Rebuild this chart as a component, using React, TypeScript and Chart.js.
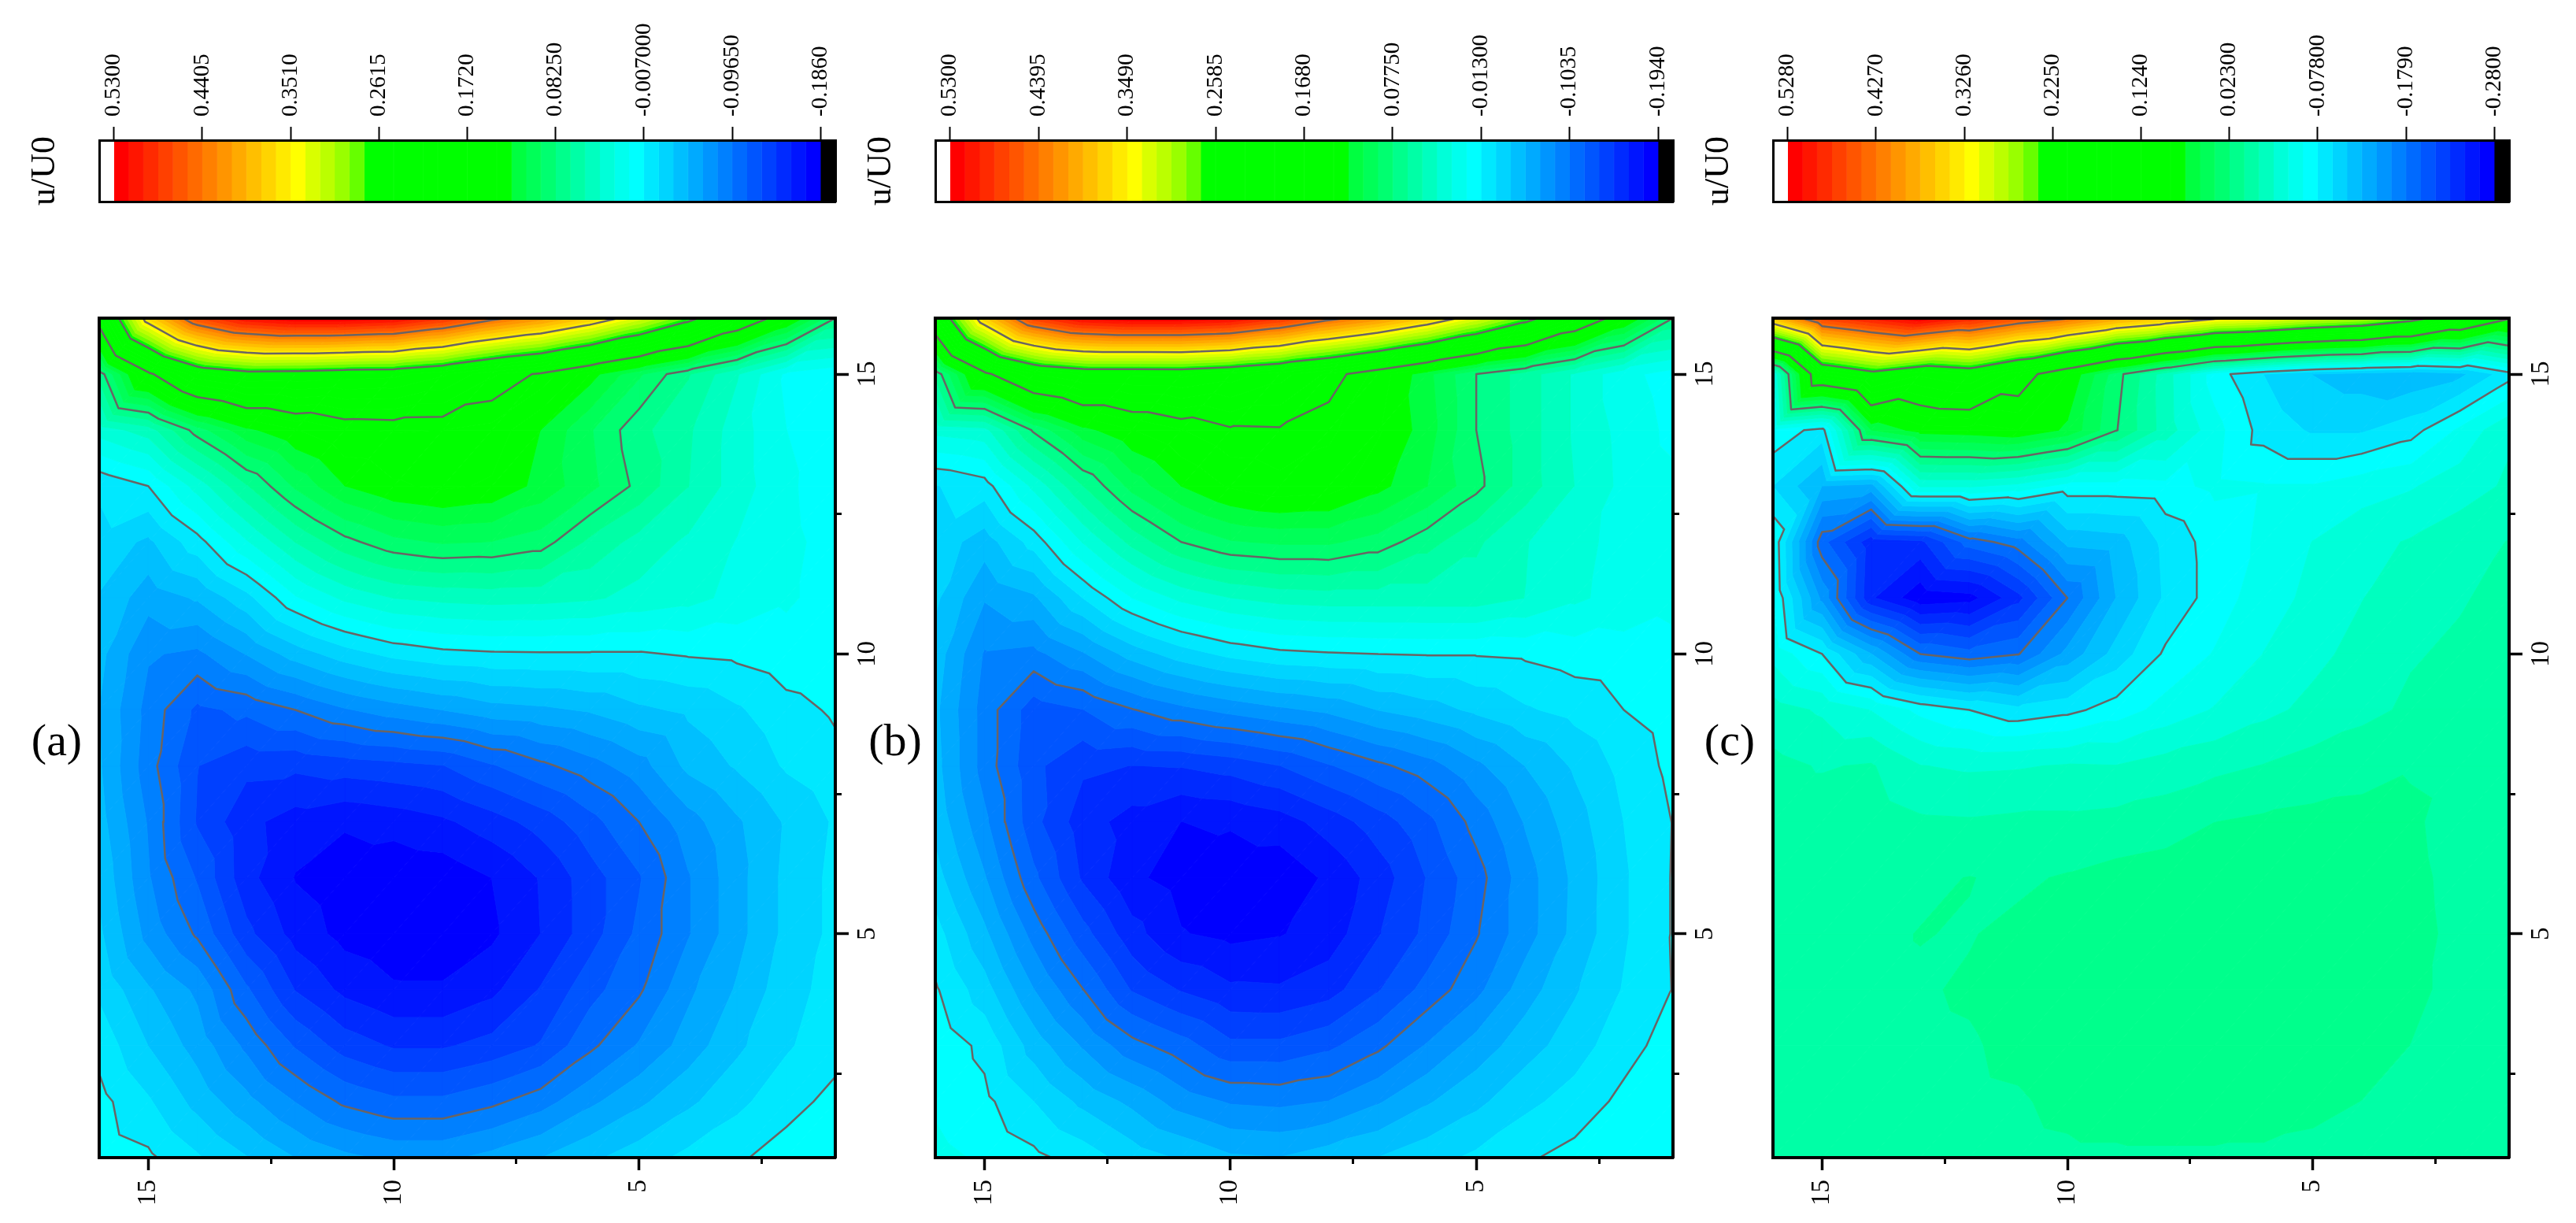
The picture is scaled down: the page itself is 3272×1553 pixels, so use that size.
import React, { useEffect, useRef } from "react";
import { Chart, registerables } from "chart.js";

Chart.register(...registerables);

const FONT = "'Liberation Serif', 'Times New Roman', serif";

// grid axes (rows run from y = 16 down to y = 1, columns from x = 16 down to x = 1)
const gridRows = [16, 15, 14, 13, 12, 11, 10, 9, 8, 7, 6, 5, 4, 3, 2, 1];
const gridCols = [16, 15, 14, 13, 12, 11, 10, 9, 8, 7, 6, 5, 4, 3, 2, 1];
const axisMajorTicks = [5, 10, 15];
const axisMinorTicks = [2.5, 7.5, 12.5];

const gridA = [
  [.19, .37, .47, .515, .5295, .5295, .52, .49, .45, .42, .38, .33, .275, .21, .15, .0825],
  [.073, .165, .229, .248, .2465, .24, .237, .22, .19, .168, .134, .10, .069, .039, .005, -.003],
  [.0295, .045, .09, .123, .141, .156, .158, .157, .152, .127, .099, .072, .055, .03, .008, -.001],
  [-.0197, -.007, .029, .066, .10, .127, .14, .145, .14, .122, .102, .078, .053, .03, .011, -.002],
  [-.027, -.040, -.013, .021, .053, .0774, .093, .099, .097, .09, .064, .047, .035, .022, .012, .002],
  [-.038, -.0605, -.05, -.027, .006, .026, .038, .042, .044, .043, .04, .033, .028, .018, .01, .002],
  [-.047, -.08, -.085, -.066, -.045, -.029, -.0176, -.0115, -.0092, -.0085, -.0085, -.0085, -.0055, -.0035, .002, .005],
  [-.052, -.087, -.115, -.108, -.0965, -.0833, -.074, -.0665, -.058, -.055, -.05, -.04, -.034, -.024, -.012, -.005],
  [-.05, -.09, -.126, -.137, -.138, -.134, -.131, -.127, -.113, -.10, -.088, -.073, -.048, -.035, -.02, -.0113],
  [-.046, -.083, -.128, -.152, -.163, -.169, -.165, -.159, -.148, -.135, -.117, -.0965, -.073, -.054, -.035, -.02],
  [-.04, -.08, -.113, -.151, -.172, -.18, -.183, -.181, -.171, -.155, -.133, -.113, -.083, -.057, -.033, -.018],
  [-.034, -.072, -.099, -.137, -.162, -.176, -.181, -.182, -.174, -.156, -.133, -.108, -.083, -.057, -.033, -.018],
  [-.025, -.05, -.07, -.109, -.142, -.16, -.169, -.169, -.16, -.14, -.117, -.099, -.07, -.05, -.028, -.016],
  [-.012, -.037, -.058, -.085, -.113, -.133, -.143, -.143, -.136, -.125, -.10, -.08, -.06, -.04, -.024, -.012],
  [-.002, -.02, -.042, -.062, -.082, -.0995, -.108, -.108, -.10, -.088, -.07, -.055, -.04, -.026, -.012, -.003],
  [.002, -.004, -.02, -.036, -.052, -.063, -.07, -.07, -.062, -.052, -.04, -.029, -.018, -.009, -.001, .003],
];

const gridB = [
  [.21, .375, .48, .52, .5295, .5295, .52, .49, .45, .42, .38, .33, .275, .21, .145, .0775],
  [.066, .16, .213, .232, .232, .233, .222, .205, .18, .147, .112, .0775, .055, .03, .007, -.005],
  [.022, .027, .08, .117, .137, .152, .165, .166, .156, .14, .115, .0775, .055, .03, .012, -.002],
  [-.029, -.02, .021, .062, .098, .1228, .14, .148, .145, .128, .1077, .082, .055, .032, .013, .006],
  [-.034, -.051, -.022, .018, .052, .0775, .091, .095, .095, .086, .068, .05, .033, .022, .012, .006],
  [-.04, -.072, -.061, -.028, .002, .021, .032, .038, .04, .04, .04, .04, .032, .02, .011, .005],
  [-.05, -.09, -.093, -.075, -.052, -.0355, -.024, -.017, -.0145, -.013, -.012, -.012, -.0105, -.006, -.004, -.001],
  [-.055, -.095, -.127, -.119, -.1045, -.093, -.084, -.0765, -.07, -.058, -.05, -.04, -.03, -.023, -.013, -.006],
  [-.053, -.095, -.13, -.146, -.149, -.148, -.143, -.134, -.12, -.107, -.095, -.077, -.058, -.041, -.023, -.009],
  [-.048, -.085, -.129, -.157, -.17, -.179, -.177, -.171, -.157, -.141, -.123, -.098, -.072, -.05, -.028, -.0125],
  [-.037, -.072, -.115, -.151, -.176, -.185, -.189, -.19, -.176, -.157, -.133, -.11, -.08, -.055, -.03, -.012],
  [-.022, -.055, -.094, -.128, -.158, -.178, -.183, -.18, -.172, -.15, -.13, -.105, -.08, -.054, -.03, -.012],
  [-.011, -.037, -.073, -.103, -.135, -.15, -.161, -.162, -.155, -.135, -.113, -.093, -.065, -.045, -.027, -.0125],
  [-.002, -.017, -.05, -.075, -.098, -.112, -.13, -.13, -.122, -.107, -.087, -.067, -.05, -.035, -.019, -.006],
  [.0, -.009, -.028, -.047, -.062, -.08, -.09, -.092, -.088, -.075, -.06, -.047, -.032, -.022, -.009, -.001],
  [.006, .0, -.009, -.02, -.035, -.045, -.056, -.058, -.05, -.043, -.034, -.025, -.015, -.008, -.002, .002],
];

const gridC = [
  [.367, .469, .50, .527, .493, .456, .43, .39, .363, .332, .32, .296, .28, .245, .188, .128],
  [-.047, .175, .21, .178, .194, .146, .09, .03, -.02, -.07, -.095, -.112, -.12, -.125, -.116, -.085],
  [-.066, -.085, .056, .081, .084, .09, .07, .024, -.019, -.055, -.085, -.097, -.097, -.085, -.058, -.03],
  [-.095, -.129, -.135, -.042, -.042, -.05, -.068, -.068, -.066, -.058, -.06, -.06, -.052, -.046, -.035, -.025],
  [-.063, -.19, -.24, -.234, -.188, -.17, -.124, -.12, -.09, -.07, -.058, -.044, -.033, -.026, -.018, -.01],
  [-.06, -.15, -.244, -.275, -.27, -.235, -.179, -.128, -.092, -.07, -.052, -.04, -.028, -.018, -.012, -.006],
  [-.05, -.078, -.128, -.179, -.19, -.18, -.14, -.105, -.075, -.06, -.044, -.032, -.022, -.012, -.008, -.003],
  [-.02, -.03, -.045, -.066, -.078, -.09, -.083, -.07, -.055, -.043, -.032, -.023, -.015, -.008, -.004, .0],
  [-.006, -.012, -.009, -.027, -.03, -.029, -.026, -.027, -.02, -.015, -.01, -.004, .0, .005, .003, .002],
  [-.002, -.002, -.001, -.008, -.009, -.007, -.007, -.005, -.002, .006, .009, .011, .012, .0085, .0, -.001],
  [.002, .002, .004, .004, .0065, .004, .0075, .012, .015, .016, .017, .017, .016, .0095, .002, .0],
  [.003, .003, .004, .0065, .0055, .009, .013, .016, .018, .019, .019, .019, .017, .01, .003, .001],
  [.003, .003, .004, .005, .0075, .011, .014, .017, .018, .019, .019, .018, .015, .0085, .003, .001],
  [.002, .003, .003, .004, .005, .009, .013, .016, .018, .018, .017, .015, .011, .006, .002, .0],
  [.002, .002, .002, .003, .004, .005, .009, .012, .014, .014, .012, .009, .006, .004, .002, .0],
  [.001, .002, .002, .002, .003, .003, .004, .004, .004, .004, .004, .003, .003, .002, .002, .0],
];

const labelsA = ["0.5300", "0.4405", "0.3510", "0.2615", "0.1720", "0.08250", "-0.007000", "-0.09650", "-0.1860"];
const labelsB = ["0.5300", "0.4395", "0.3490", "0.2585", "0.1680", "0.07750", "-0.01300", "-0.1035", "-0.1940"];
const labelsC = ["0.5280", "0.4270", "0.3260", "0.2250", "0.1240", "0.02300", "-0.07800", "-0.1790", "-0.2800"];

// 48 bands between the first and last legend labels, from high to low
const bandColors = [
  "#ff0000", "#ff1500", "#ff2a00", "#ff4000", "#ff5500", "#ff6a00", "#ff8000", "#ff9500", "#ffaa00", "#ffbf00", "#ffd400", "#ffea00",
  "#ffff00", "#d9ff00", "#bbff00", "#99ff00", "#66ff00", "#00ff00", "#00ff00", "#00ff00", "#00ff00", "#00ff00", "#00ff00", "#00ff00",
  "#00ff00", "#00ff00", "#00ff00", "#00ff40", "#00ff58", "#00ff70", "#00ff8c", "#00ffa6", "#00ffbf", "#00ffd9", "#00ffee", "#00ffff",
  "#00e8ff", "#00d4ff", "#00bfff", "#00aaff", "#0095ff", "#0080ff", "#006aff", "#0055ff", "#0040ff", "#002aff", "#0015ff", "#0000ff",
];

const CONTOUR_COLOR = "#6a6464";

const panels = [
  { key: "a", grid: gridA, labels: labelsA, left: 126, right: 1061, tag: "(a)", tagX: 72 },
  { key: "b", grid: gridB, labels: labelsB, left: 1188, right: 2125, tag: "(b)", tagX: 1137 },
  { key: "c", grid: gridC, labels: labelsC, left: 2252, right: 3187, tag: "(c)", tagX: 2197 },
];

const PLOT_TOP = 404;
const PLOT_BOTTOM = 1470;
const BAR_TOP = 178;
const BAR_BOTTOM = 256;

type P = { x: number; y: number; v: number };

function clipAbove(poly: P[], level: number, keepAbove: boolean): P[] {
  const out: P[] = [];
  for (let i = 0; i < poly.length; i++) {
    const a = poly[i];
    const b = poly[(i + 1) % poly.length];
    const ia = keepAbove ? a.v >= level : a.v <= level;
    const ib = keepAbove ? b.v >= level : b.v <= level;
    if (ia) out.push(a);
    if (ia !== ib) {
      const t = (level - a.v) / (b.v - a.v);
      out.push({ x: a.x + t * (b.x - a.x), y: a.y + t * (b.y - a.y), v: level });
    }
  }
  return out;
}

function triangles(grid: number[][]): P[][] {
  const tris: P[][] = [];
  for (let r = 0; r < gridRows.length - 1; r++) {
    for (let c = 0; c < gridCols.length - 1; c++) {
      const tl = { x: gridCols[c], y: gridRows[r], v: grid[r][c] };
      const tr = { x: gridCols[c + 1], y: gridRows[r], v: grid[r][c + 1] };
      const bl = { x: gridCols[c], y: gridRows[r + 1], v: grid[r + 1][c] };
      const br = { x: gridCols[c + 1], y: gridRows[r + 1], v: grid[r + 1][c + 1] };
      tris.push([tl, tr, bl], [tr, br, bl]);
    }
  }
  return tris;
}

function bandDatasets(grid: number[][], labels: string[]) {
  const hi = parseFloat(labels[0]);
  const lo = parseFloat(labels[labels.length - 1]);
  const step = (hi - lo) / bandColors.length;
  const tris = triangles(grid);
  const sets: any[] = [];
  const edges: [number, number, string][] = bandColors.map((col, i) => [hi - (i + 1) * step, hi - i * step, col]);
  edges.unshift([hi, 10, "#ffffff"]);
  edges.push([-10, lo, "#000000"]);
  for (const [bLo, bHi, col] of edges) {
    const data: any[] = [];
    for (const t of tris) {
      let poly = clipAbove(t, bLo, true);
      if (poly.length) poly = clipAbove(poly, bHi, false);
      if (poly.length < 3) continue;
      for (const p of poly) data.push({ x: p.x, y: p.y });
      data.push({ x: poly[0].x, y: poly[0].y });
      data.push({ x: null, y: null });
    }
    if (!data.length) continue;
    sets.push({
      type: "line",
      data,
      fill: "shape",
      backgroundColor: col,
      borderColor: col,
      borderWidth: 1,
      pointRadius: 0,
      spanGaps: false,
      tension: 0,
      order: 10,
    });
  }
  return sets;
}

function contourDatasets(grid: number[][], labels: string[]) {
  const tris = triangles(grid);
  const levels = labels.slice(1, -1).map(parseFloat);
  const data: any[] = [];
  for (const level of levels) {
    for (const t of tris) {
      const pts: P[] = [];
      for (let i = 0; i < 3; i++) {
        const a = t[i];
        const b = t[(i + 1) % 3];
        if ((a.v >= level) !== (b.v >= level)) {
          const s = (level - a.v) / (b.v - a.v);
          pts.push({ x: a.x + s * (b.x - a.x), y: a.y + s * (b.y - a.y), v: level });
        }
      }
      if (pts.length === 2) {
        data.push({ x: pts[0].x, y: pts[0].y }, { x: pts[1].x, y: pts[1].y }, { x: null, y: null });
      }
    }
  }
  return [
    {
      type: "line",
      data,
      fill: false,
      borderColor: CONTOUR_COLOR,
      borderWidth: 2.5,
      borderCapStyle: "round",
      pointRadius: 0,
      spanGaps: false,
      tension: 0,
      order: 1,
    },
  ];
}

function fixedSize(size: number, vertical: boolean) {
  return (s: any) => {
    if (vertical) s.width = size;
    else s.height = size;
    s.paddingLeft = 0;
    s.paddingRight = 0;
    s.paddingTop = 0;
    s.paddingBottom = 0;
  };
}

function useTicks(values: number[]) {
  return (s: any) => {
    s.ticks = values.map((value) => ({ value }));
  };
}

function makePanelChart(canvas: HTMLCanvasElement, grid: number[][], labels: string[], padLeft: number, padTop: number) {
  const frame = { display: true, width: 4, color: "#000", z: 1 };
  const hiddenTicks = { display: false };
  const range = { type: "linear", min: 1, max: 16 };
  const tickFont = { family: FONT, size: 33 };
  return new Chart(canvas, {
    type: "line",
    data: { datasets: [...contourDatasets(grid, labels), ...bandDatasets(grid, labels)] as any },
    options: {
      animation: false,
      responsive: false,
      devicePixelRatio: 1,
      layout: { padding: { left: padLeft, top: padTop, right: 0, bottom: 0 } },
      plugins: { legend: { display: false }, tooltip: { enabled: false } },
      events: [],
      scales: {
        x: {
          ...range,
          reverse: true,
          position: "bottom",
          afterBuildTicks: useTicks(axisMajorTicks),
          afterFit: fixedSize(76, false),
          border: frame,
          grid: { display: true, drawOnChartArea: false, drawTicks: true, tickLength: 16, tickWidth: 3.5, tickColor: "#000" },
          ticks: { autoSkip: false, minRotation: 90, maxRotation: 90, padding: 12, font: tickFont, color: "#000" },
        },
        xMinor: {
          ...range,
          reverse: true,
          position: "bottom",
          weight: -1,
          afterBuildTicks: useTicks(axisMinorTicks),
          afterFit: fixedSize(0, false),
          border: { display: false },
          grid: { display: true, drawOnChartArea: false, drawTicks: true, tickLength: 8, tickWidth: 3, tickColor: "#000" },
          ticks: { display: false, autoSkip: false },
        },
        xTop: {
          ...range,
          position: "top",
          afterFit: fixedSize(0, false),
          border: frame,
          grid: { display: false },
          ticks: hiddenTicks,
        },
        y: {
          ...range,
          position: "right",
          afterBuildTicks: useTicks(axisMajorTicks),
          afterFit: fixedSize(64, true),
          border: frame,
          grid: { display: true, drawOnChartArea: false, drawTicks: true, tickLength: 17, tickWidth: 3.5, tickColor: "#000" },
          ticks: { autoSkip: false, minRotation: 90, maxRotation: 90, padding: 8, crossAlign: "center", font: tickFont, color: "#000" },
        },
        yMinor: {
          ...range,
          position: "right",
          weight: -1,
          afterBuildTicks: useTicks(axisMinorTicks),
          afterFit: fixedSize(0, true),
          border: { display: false },
          grid: { display: true, drawOnChartArea: false, drawTicks: true, tickLength: 8, tickWidth: 3, tickColor: "#000" },
          ticks: { display: false, autoSkip: false },
        },
        yLeft: {
          ...range,
          position: "left",
          afterFit: fixedSize(0, true),
          border: frame,
          grid: { display: false },
          ticks: hiddenTicks,
        },
      } as any,
    },
  });
}

function makeBarChart(canvas: HTMLCanvasElement, labels: string[], axisLeft: number, axisTop: number, padRight: number, padBottom: number) {
  const values = labels.map(parseFloat);
  const hi = values[0];
  const lo = values[values.length - 1];
  const step = (hi - lo) / bandColors.length;
  const frame = { display: true, width: 3, color: "#000", z: 1 };
  const bar = (from: number, to: number, col: string) => ({
    data: [[from, to]],
    backgroundColor: col,
    borderColor: col,
    borderWidth: 0.5,
    borderSkipped: false,
    barPercentage: 1,
    categoryPercentage: 1,
    grouped: false,
  });
  const datasets = [
    bar(hi + step, hi, "#ffffff"),
    ...bandColors.map((col, i) => bar(hi - i * step, hi - (i + 1) * step, col)),
    bar(lo, lo - step, "#000000"),
  ];
  const range = { type: "linear", min: lo - step, max: hi + step };
  return new Chart(canvas, {
    type: "bar",
    data: { labels: ["u/U0"], datasets: datasets as any },
    options: {
      animation: false,
      responsive: false,
      devicePixelRatio: 1,
      indexAxis: "y",
      layout: { padding: { right: padRight, bottom: padBottom, left: 0, top: 0 } },
      plugins: { legend: { display: false }, tooltip: { enabled: false } },
      events: [],
      scales: {
        x: {
          ...range,
          reverse: true,
          position: "top",
          afterBuildTicks: useTicks(values),
          afterFit: fixedSize(axisTop, false),
          border: frame,
          grid: { display: true, drawOnChartArea: false, drawTicks: true, tickLength: 17, tickWidth: 2, tickColor: "#000" },
          ticks: {
            autoSkip: false,
            minRotation: 90,
            maxRotation: 90,
            padding: 13,
            labelOffset: 34.8,
            font: { family: FONT, size: 29 },
            color: "#000",
            callback: (_v: any, i: number) => labels[i],
          },
        },
        xBottom: {
          ...range,
          position: "bottom",
          afterFit: fixedSize(0, false),
          border: frame,
          grid: { display: false },
          ticks: { display: false },
        },
        y: {
          position: "left",
          afterFit: fixedSize(axisLeft, true),
          border: frame,
          grid: { display: false },
          ticks: { display: false },
          title: {
            display: true,
            text: "u/U0",
            font: { family: FONT, size: 44 },
            color: "#000",
            padding: { top: 30, bottom: 0 },
          },
        },
        yRight: {
          type: "linear",
          position: "right",
          afterFit: fixedSize(0, true),
          border: frame,
          grid: { display: false },
          ticks: { display: false },
        },
      } as any,
    },
  });
}

function Panel({ panel }: { panel: (typeof panels)[number] }) {
  const plotRef = useRef<HTMLCanvasElement>(null);
  const barRef = useRef<HTMLCanvasElement>(null);
  const plotPad = 6;
  const plotX = panel.left - plotPad;
  const plotY = PLOT_TOP - plotPad;
  const plotW = plotPad + (panel.right - panel.left) + 64;
  const plotH = plotPad + (PLOT_BOTTOM - PLOT_TOP) + 76;
  const barLeftAxis = 125;
  const barX = panel.left - barLeftAxis;
  const barW = barLeftAxis + (panel.right - panel.left) + 5;
  const barH = BAR_BOTTOM + 5;
  useEffect(() => {
    const c1 = makePanelChart(plotRef.current!, panel.grid, panel.labels, plotPad, plotPad);
    const c2 = makeBarChart(barRef.current!, panel.labels, barLeftAxis, BAR_TOP, 5, 5);
    return () => {
      c1.destroy();
      c2.destroy();
    };
  }, []);
  return (
    <>
      <canvas ref={barRef} width={barW} height={barH} style={{ position: "absolute", left: barX, top: 0, display: "block" }} />
      <canvas ref={plotRef} width={plotW} height={plotH} style={{ position: "absolute", left: plotX, top: plotY, display: "block" }} />
      <div
        style={{
          position: "absolute",
          left: panel.tagX - 60,
          top: 905,
          width: 120,
          textAlign: "center",
          fontFamily: FONT,
          fontSize: 58,
          lineHeight: "70px",
          color: "#000",
        }}
      >
        {panel.tag}
      </div>
    </>
  );
}

export default function App() {
  return (
    <div style={{ position: "absolute", left: 0, top: 0, width: 3272, height: 1553, background: "#fff", overflow: "hidden" }}>
      {panels.map((p) => (
        <Panel key={p.key} panel={p} />
      ))}
    </div>
  );
}
